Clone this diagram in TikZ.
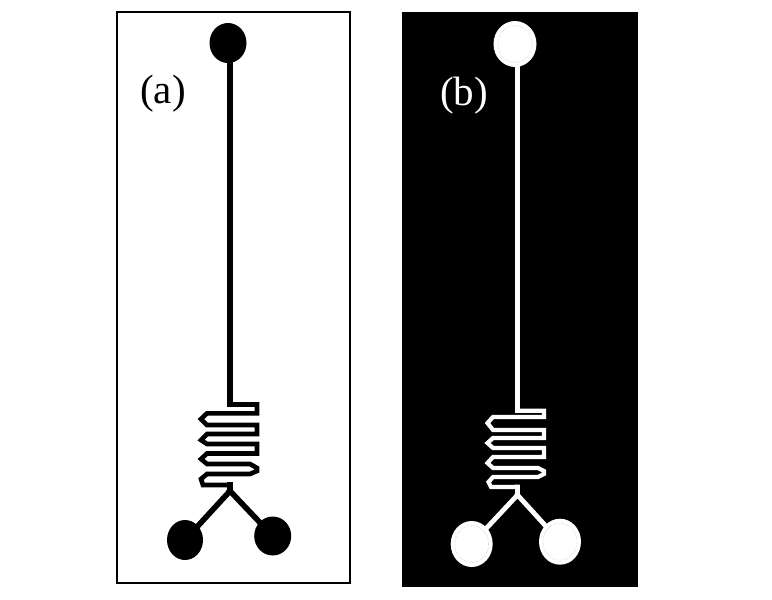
\documentclass[tikz,border=0pt]{standalone}
\usepackage{fontspec}
\setmainfont{Liberation Serif}
\usetikzlibrary{shapes.geometric}
\tikzstyle{pad} = [ellipse, fill, inner sep=0pt, outer sep=0pt]
\tikzstyle{padring} = [ellipse, draw=gray!60, densely dotted, line width=0.4pt, inner sep=0pt]
\tikzstyle{channel} = [line width=5.6pt, line cap=rect]
\tikzstyle{meander} = [line width=4.6pt, miter limit=10, line join=miter]
\tikzstyle{panel} = [font=\fontsize{41}{41}\selectfont]
\begin{document}
\begin{tikzpicture}[x=1pt, y=-1pt]
    \useasboundingbox (0,0) rectangle (772,600);

    % panel a
    \node (framea) [draw, line width=1.6pt, minimum width=233pt, minimum height=571pt, inner sep=0pt] at (233.5,297.5) {};
    \node (labela) [panel] at (163,94) {(a)};
    \node (topa) [pad, minimum width=37pt, minimum height=40pt] at (228,43) {};
    \node (lefta) [pad, minimum width=36pt, minimum height=40pt] at (185,540) {};
    \node (righta) [pad, minimum width=37pt, minimum height=39pt] at (272.7,536) {};
    \coordinate (starta) at (230,404.5);
    \coordinate (enda) at (230,485);
    \coordinate (joina) at (230,491);
    \draw[channel] (topa.south -| starta) -- (starta);
    \draw[meander] (starta) -- (257,404.5) -- (257,413.3)
        -- (207,413.3) -- (201,419) -- (207,425) -- (257,425) -- (257,434)
        -- (207,434) -- (201,440) -- (207,444) -- (257,444) -- (257,453.5)
        -- (207,453.5) -- (201,459) -- (207,464) -- (250,464) -- (257,468) -- (257,471) -- (250,474)
        -- (207,474) -- (201,479) -- (203,485) -- (enda);
    \draw[channel] (enda) -- (joina) -- (lefta);
    \draw[channel] (joina) -- (righta);

    % panel b
    \node (frameb) [fill, minimum width=236pt, minimum height=575pt, inner sep=0pt] at (520,299.5) {};
    \node (labelb) [panel, text=white] at (464,96) {(b)};
    \node (topb) [pad, white, minimum width=43pt, minimum height=46pt] at (515,44) {};
    \node (leftb) [pad, white, minimum width=42pt, minimum height=46pt] at (471.7,544) {};
    \node (rightb) [pad, white, minimum width=42pt, minimum height=46pt] at (560,541.7) {};
    \node (ringtopb) [padring, minimum width=34pt, minimum height=37pt] at (515,44) {};
    \node (ringleftb) [padring, minimum width=34pt, minimum height=37pt] at (471.7,544) {};
    \node (ringrightb) [padring, minimum width=34pt, minimum height=37pt] at (560,541.7) {};
    \coordinate (startb) at (517.5,410.7);
    \coordinate (endb) at (517.5,487);
    \coordinate (joinb) at (517.5,495);
    \draw[channel, white, line width=4.8pt] (topb.south -| startb) -- (startb);
    \draw[meander, white, line width=4.2pt] (startb) -- (544,410.7) -- (544,417)
        -- (493,417) -- (487.5,423) -- (493,430) -- (544,430) -- (544,438)
        -- (493,438) -- (487.5,443) -- (493,448) -- (544,448) -- (544,457)
        -- (493,457) -- (487.5,463) -- (493,468) -- (538,468) -- (544,471) -- (544,474) -- (538,477)
        -- (493,477) -- (488.5,482) -- (491,487) -- (endb);
    \draw[channel, white, line width=4.8pt] (endb) -- (joinb) -- (leftb);
    \draw[channel, white, line width=4.8pt] (joinb) -- (rightb);
\end{tikzpicture}
\end{document}
